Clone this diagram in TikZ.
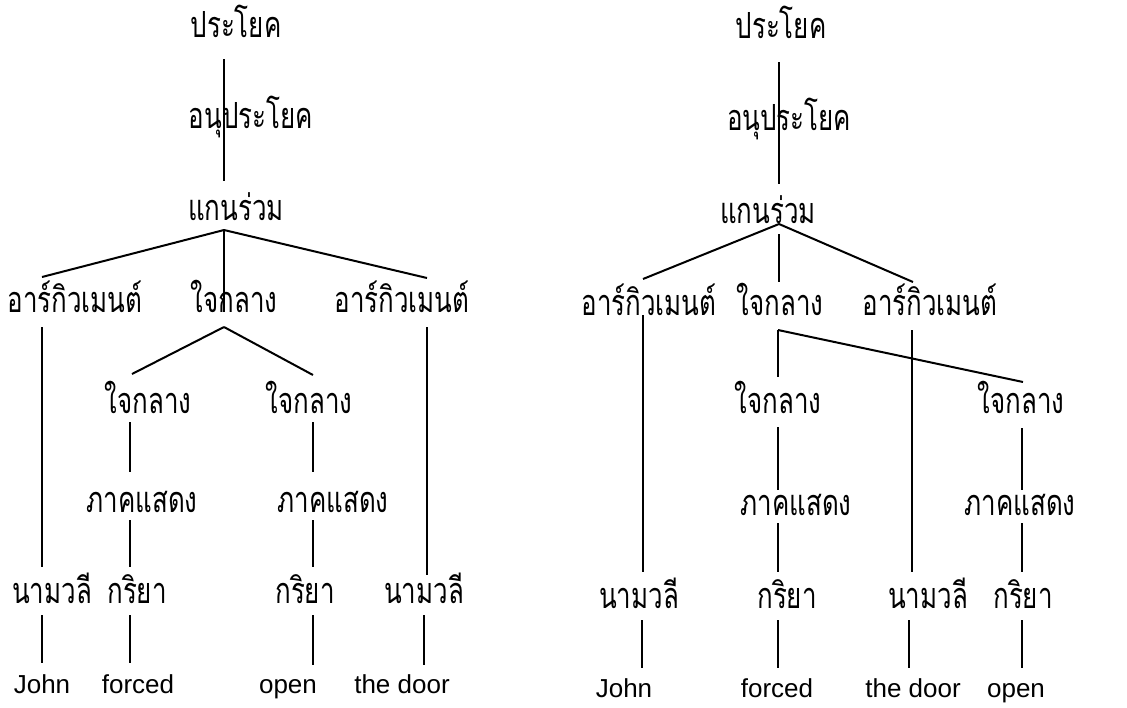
\documentclass[tikz,border=0pt]{standalone}
\usepackage{fontspec}
\setmainfont{Liberation Sans}
\newfontfamily\thaifont[Script=Thai, FakeStretch=0.72]{Loma}
\usetikzlibrary{positioning}

\tikzset{
    cat/.style={font=\thaifont\fontsize{18}{20}\selectfont, inner sep=0pt, anchor=base},
    word/.style={font=\fontsize{13}{15}\selectfont, inner sep=0pt, anchor=base},
    branch/.style={line width=1pt}
}

\begin{document}
\begin{tikzpicture}[x=0.5pt, y=-0.5pt]
    \useasboundingbox (0,0) rectangle (1127,707);

    % Left tree: John forced open the door.
    \begin{scope}
        \node[cat] (sL)  at (236, 37)  {ประโยค};
        \node[cat] (cL)  at (251, 128) {อนุประโยค};
        \node[cat] (kL)  at (236, 220) {แกนร่วม};
        \node[cat] (a1L) at (75, 312)  {อาร์กิวเมนต์};
        \node[cat] (hL)  at (234, 312) {ใจกลาง};
        \node[cat] (a2L) at (402, 312) {อาร์กิวเมนต์};
        \node[cat] (h1L) at (148, 413) {ใจกลาง};
        \node[cat] (h2L) at (309, 413) {ใจกลาง};
        \node[cat] (p1L) at (142, 512) {ภาคแสดง};
        \node[cat] (p2L) at (333, 512) {ภาคแสดง};
        \node[cat] (n1L) at (52, 603)  {นามวลี};
        \node[cat] (v1L) at (137, 603) {กริยา};
        \node[cat] (v2L) at (305, 603) {กริยา};
        \node[cat] (n2L) at (424, 603) {นามวลี};
        \node[word] (w1L) at (42, 693)  {John};
        \node[word] (w2L) at (138, 693) {forced};
        \node[word] (w3L) at (288, 693) {open};
        \node[word] (w4L) at (402, 693) {the door};

        % attachment points
        \coordinate (sL-b)  at (224, 59);
        \coordinate (cL-m)  at (224, 118);
        \coordinate (kL-t)  at (224, 181);
        \coordinate (kL-b)  at (224, 230);
        \coordinate (a1L-t) at (42, 277);
        \coordinate (hL-t)  at (224, 312);
        \coordinate (a2L-t) at (427, 278);
        \coordinate (a1L-b) at (42, 327);
        \coordinate (a2L-b) at (427, 327);
        \coordinate (hL-b)  at (224, 327);
        \coordinate (h1L-t) at (132, 374);
        \coordinate (h2L-t) at (313, 375);
        \coordinate (h1L-b) at (130, 422);
        \coordinate (h2L-b) at (313, 422);
        \coordinate (p1L-t) at (130, 472);
        \coordinate (p2L-t) at (313, 472);
        \coordinate (p1L-b) at (130, 520);
        \coordinate (p2L-b) at (313, 520);
        \coordinate (n1L-t) at (42, 567);
        \coordinate (v1L-t) at (130, 567);
        \coordinate (v2L-t) at (313, 567);
        \coordinate (n2L-t) at (427, 575);
        \coordinate (n1L-b) at (42, 615);
        \coordinate (v1L-b) at (130, 615);
        \coordinate (v2L-b) at (313, 615);
        \coordinate (n2L-b) at (424, 615);
        \coordinate (w1L-t) at (42, 663);
        \coordinate (w2L-t) at (130, 663);
        \coordinate (w3L-t) at (313, 665);
        \coordinate (w4L-t) at (424, 665);

        \draw[branch] (sL-b) -- (cL-m) -- (kL-t);
        \draw[branch] (kL-b) -- (a1L-t);
        \draw[branch] (kL-b) -- (hL-t);
        \draw[branch] (kL-b) -- (a2L-t);
        \draw[branch] (a1L-b) -- (n1L-t);
        \draw[branch] (a2L-b) -- (n2L-t);
        \draw[branch] (hL-b) -- (h1L-t);
        \draw[branch] (hL-b) -- (h2L-t);
        \draw[branch] (h1L-b) -- (p1L-t);
        \draw[branch] (h2L-b) -- (p2L-t);
        \draw[branch] (p1L-b) -- (v1L-t);
        \draw[branch] (p2L-b) -- (v2L-t);
        \draw[branch] (n1L-b) -- (w1L-t);
        \draw[branch] (v1L-b) -- (w2L-t);
        \draw[branch] (v2L-b) -- (w3L-t);
        \draw[branch] (n2L-b) -- (w4L-t);
    \end{scope}

    % Right tree: crossing branches.
    \begin{scope}
        \node[cat] (sR)  at (781, 38)   {ประโยค};
        \node[cat] (cR)  at (789, 130)  {อนุประโยค};
        \node[cat] (kR)  at (768, 223)  {แกนร่วม};
        \node[cat] (a1R) at (649, 315)  {อาร์กิวเมนต์};
        \node[cat] (hR)  at (780, 315)  {ใจกลาง};
        \node[cat] (a2R) at (930, 315)  {อาร์กิวเมนต์};
        \node[cat] (h1R) at (778, 413)  {ใจกลาง};
        \node[cat] (h2R) at (1021, 413) {ใจกลาง};
        \node[cat] (p1R) at (796, 515)  {ภาคแสดง};
        \node[cat] (p2R) at (1020, 515) {ภาคแสดง};
        \node[cat] (n1R) at (639, 608)  {นามวลี};
        \node[cat] (v1R) at (787, 608)  {กริยา};
        \node[cat] (n2R) at (928, 608)  {นามวลี};
        \node[cat] (v2R) at (1023, 608) {กริยา};
        \node[word] (w1R) at (624, 697)  {John};
        \node[word] (w2R) at (777, 697)  {forced};
        \node[word] (w3R) at (913, 697)  {the door};
        \node[word] (w4R) at (1016, 697) {open};

        % attachment points
        \coordinate (sR-b)  at (779, 62);
        \coordinate (cR-m)  at (779, 122);
        \coordinate (kR-t)  at (779, 184);
        \coordinate (kR-b)  at (779, 224);
        \coordinate (kR-c)  at (779, 234);
        \coordinate (a1R-t) at (643, 279);
        \coordinate (hR-t)  at (779, 282);
        \coordinate (a2R-t) at (913, 282);
        \coordinate (a1R-b) at (643, 315);
        \coordinate (a2R-b) at (912, 330);
        \coordinate (hR-b)  at (778, 330);
        \coordinate (h1R-t) at (778, 377);
        \coordinate (h2R-t) at (1023, 382);
        \coordinate (h1R-b) at (778, 427);
        \coordinate (h2R-b) at (1022, 428);
        \coordinate (p1R-t) at (778, 490);
        \coordinate (p2R-t) at (1022, 490);
        \coordinate (p1R-b) at (778, 523);
        \coordinate (p2R-b) at (1022, 523);
        \coordinate (n1R-t) at (643, 572);
        \coordinate (v1R-t) at (778, 572);
        \coordinate (n2R-t) at (912, 572);
        \coordinate (v2R-t) at (1022, 572);
        \coordinate (n1R-b) at (642, 620);
        \coordinate (v1R-b) at (778, 620);
        \coordinate (n2R-b) at (909, 620);
        \coordinate (v2R-b) at (1022, 620);
        \coordinate (w1R-t) at (642, 668);
        \coordinate (w2R-t) at (778, 668);
        \coordinate (w3R-t) at (909, 668);
        \coordinate (w4R-t) at (1022, 668);

        \draw[branch] (sR-b) -- (cR-m) -- (kR-t);
        \draw[branch] (kR-b) -- (a1R-t);
        \draw[branch] (kR-c) -- (hR-t);
        \draw[branch] (kR-b) -- (a2R-t);
        \draw[branch] (a1R-b) -- (n1R-t);
        \draw[branch] (a2R-b) -- (n2R-t);
        \draw[branch] (hR-b) -- (h1R-t);
        \draw[branch] (hR-b) -- (h2R-t);
        \draw[branch] (h1R-b) -- (p1R-t);
        \draw[branch] (h2R-b) -- (p2R-t);
        \draw[branch] (p1R-b) -- (v1R-t);
        \draw[branch] (p2R-b) -- (v2R-t);
        \draw[branch] (n1R-b) -- (w1R-t);
        \draw[branch] (v1R-b) -- (w2R-t);
        \draw[branch] (n2R-b) -- (w3R-t);
        \draw[branch] (v2R-b) -- (w4R-t);
    \end{scope}
\end{tikzpicture}
\end{document}
